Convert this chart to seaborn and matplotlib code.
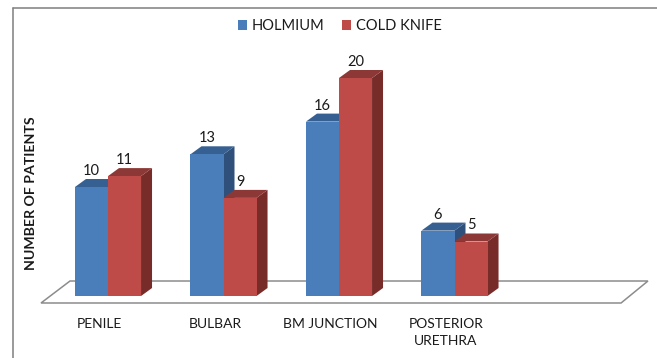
import pandas as pd
import seaborn as sns
import matplotlib
matplotlib.use('Agg')
import matplotlib.pyplot as plt
from matplotlib.lines import Line2D
from matplotlib.patches import Polygon
from matplotlib.transforms import ScaledTranslation

# values
categories = ['PENILE', 'BULBAR', 'BM JUNCTION', 'POSTERIOR\nURETHRA']
holmium = [10, 13, 16, 6]
cold_knife = [11, 9, 20, 5]
series_names = ['HOLMIUM', 'COLD KNIFE']

front_colors = ['#4a7ebb', '#be4b48']
side_colors = ['#30507c', '#772c2a']
top_colors = ['#376092', '#8c3836']

sns.set_theme(style='white')
plt.rcParams['font.family'] = ['Lato', 'DejaVu Sans']
plt.rcParams['text.color'] = '#1a1a1a'

W, H = 657, 358
fig = plt.figure(figsize=(W / 100, H / 100), dpi=100)
ax = fig.add_axes([13 / W, (H - 296) / H, (W - 13) / W, 288 / H])

df = pd.DataFrame({
    'category': categories * 2,
    'patients': holmium + cold_knife,
    'method': [series_names[0]] * 4 + [series_names[1]] * 4,
})

sns.barplot(data=df, x='category', y='patients', hue='method', palette=front_colors,
            width=0.572, gap=0, saturation=1, errorbar=None, linewidth=0, zorder=3, ax=ax)

ax.set_xlim((13 - 108) / 115.5, (W - 108) / 115.5)
ax.set_ylim(0, 288 / 10.9)

# depth of the fake 3D effect, in data units
dx = 11 / 115.5
dy = 8 / 10.9

# side and top faces are built from the bars seaborn drew
for i, container in enumerate(ax.containers):
    for bar in container:
        bar.set_zorder(3 + 2 * i)
        x0 = bar.get_x()
        x1 = x0 + bar.get_width()
        h = bar.get_height()
        side = [(x1, 0), (x1, h), (x1 + dx, h + dy), (x1 + dx, dy)]
        top = [(x0, h), (x1, h), (x1 + dx, h + dy), (x0 + dx, h + dy)]
        ax.add_patch(Polygon(side, closed=True, fc=side_colors[i], ec='none', zorder=2 + 2 * i))
        ax.add_patch(Polygon(top, closed=True, fc=top_colors[i], ec='none', zorder=2 + 2 * i))
    labels = ax.bar_label(container, padding=6.5, fontsize=10.5)
    for t in labels:
        t.set_zorder(10)

# floor
floor = [(-0.580, -0.642), (-0.329, 1.376), (4.675, 1.376), (4.442, -0.642)]
ax.add_patch(Polygon(floor, closed=True, fc='white', ec='#8c8c8c', lw=1.1, zorder=1, clip_on=False))

ax.set_xlabel('')
ax.set_yticks([])
ax.set_ylabel('NUMBER OF PATIENTS', fontsize=10.2, fontweight='bold', color='#1a1a1a')
ax.yaxis.set_label_coords(24 / 644, 102.5 / 288)
ax.tick_params(axis='x', length=0, pad=15.5, labelsize=10, labelcolor='#1a1a1a')
shift = ScaledTranslation(-8.5 / 100, 0, fig.dpi_scale_trans)
for label in ax.get_xticklabels():
    label.set_transform(label.get_transform() + shift)
    label.set_linespacing(1.55)

sns.despine(ax=ax, left=True, bottom=True)
ax.patch.set_alpha(0)

handles, names = ax.get_legend_handles_labels()
ax.legend(handles, names, ncols=2, loc='center', bbox_to_anchor=(340 / W, 1 - 26 / H),
          bbox_transform=fig.transFigure, frameon=False, fontsize=10.5,
          handlelength=0.62, handleheight=0.62, handletextpad=0.34, columnspacing=1.23)

# outer frame, runs off the right and bottom edges
fig.add_artist(Line2D([13 / W, 13 / W], [0, 1 - 8 / H], color='#7f7f7f', lw=1.1))
fig.add_artist(Line2D([13 / W, 1], [1 - 8 / H, 1 - 8 / H], color='#7f7f7f', lw=1.1))

fig.savefig('out.png', dpi=100)
